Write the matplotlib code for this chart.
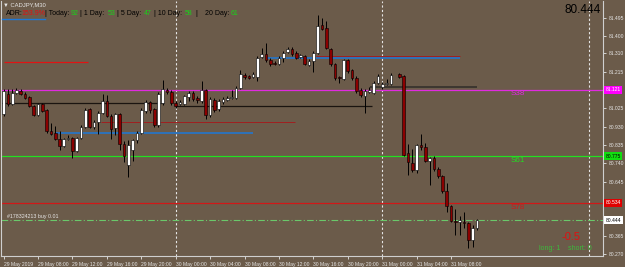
import numpy as np
import pandas as pd
import matplotlib
matplotlib.use("Agg")
import matplotlib.pyplot as plt
import matplotlib.transforms as mtransforms

# ---- data: CADJPY M30, first bar 29 May 2019 04:00 ----
first_bar = "2019-05-29 04:00"
opens = [80.997, 81.100, 81.049, 81.106, 81.116, 81.100, 81.085, 81.038, 80.992, 81.049,
         81.018, 80.909, 80.899, 80.868, 80.827, 80.863, 80.873, 80.801, 80.873, 80.930,
         81.023, 80.930, 80.956, 81.002, 81.064, 80.987, 80.925, 80.997, 80.842, 80.729,
         80.806, 80.858, 80.899, 81.013, 81.059, 81.023, 80.940, 81.054, 81.121, 81.111,
         81.054, 81.049, 81.049, 81.085, 81.106, 81.080, 81.064, 81.121, 80.992, 81.069,
         81.023, 81.059, 81.069, 81.080, 81.080, 81.131, 81.198, 81.193, 81.188, 81.188,
         81.291, 81.307, 81.276, 81.260, 81.255, 81.286, 81.317, 81.333, 81.312, 81.291,
         81.297, 81.250, 81.271, 81.312, 81.457, 81.441, 81.333, 81.255, 81.188, 81.178,
         81.276, 81.224, 81.183, 81.121, 81.090, 81.111, 81.106, 81.157, 81.137, 81.152,
         81.152, np.nan, 81.204, 81.193, 80.791, 80.739, 80.703, 80.837, 80.822, 80.754,
         80.765, 80.708, 80.672, 80.594, 80.517, 80.440, 80.434, 80.434, 80.429, 80.341,
         80.403]
highs = [81.126, 81.126, 81.126, 81.131, 81.126, 81.111, 81.090, 81.044, 81.054, 81.054,
         81.023, 80.951, 80.935, 80.909, 80.873, 80.884, 80.878, 80.878, 80.940, 81.028,
         81.028, 80.966, 81.013, 81.100, 81.095, 80.997, 81.002, 81.002, 80.853, 80.858,
         80.868, 80.909, 81.028, 81.069, 81.064, 81.028, 81.111, 81.173, 81.131, 81.121,
         81.064, 81.069, 81.095, 81.116, 81.116, 81.090, 81.167, 81.126, 81.085, 81.080,
         81.075, 81.085, 81.090, 81.121, 81.142, 81.224, 81.209, 81.198, 81.214, 81.297,
         81.338, 81.364, 81.286, 81.271, 81.297, 81.322, 81.343, 81.343, 81.322, 81.307,
         81.302, 81.281, 81.322, 81.508, 81.493, 81.477, 81.338, 81.260, 81.193, 81.281,
         81.281, 81.229, 81.193, 81.131, 81.126, 81.137, 81.167, 81.204, 81.162, 81.178,
         81.209, np.nan, 81.209, 81.198, 80.842, 80.816, 80.842, 80.889, 80.847, 80.770,
         80.775, 80.718, 80.677, 80.636, 80.522, 80.501, 80.465, 80.486, 80.434, 80.419,
         80.450]
lows = [80.987, 81.038, 81.044, 81.100, 81.095, 81.075, 81.033, 80.987, 80.987, 81.007,
        80.899, 80.884, 80.858, 80.806, 80.822, 80.858, 80.765, 80.796, 80.868, 80.925,
        80.925, 80.920, 80.894, 80.997, 80.982, 80.868, 80.884, 80.806, 80.744, 80.667,
        80.754, 80.847, 80.889, 81.002, 81.002, 80.930, 80.930, 81.044, 81.100, 81.044,
        81.028, 81.044, 81.044, 81.064, 81.064, 81.054, 81.054, 80.971, 80.982, 81.007,
        81.013, 81.049, 81.064, 81.075, 81.075, 81.126, 81.178, 81.178, 81.183, 81.167,
        81.286, 81.266, 81.245, 81.250, 81.250, 81.266, 81.312, 81.297, 81.281, 81.286,
        81.250, 81.245, 81.214, 81.307, 81.431, 81.333, 81.245, 81.173, 81.157, 81.173,
        81.209, 81.173, 81.106, 81.085, 81.002, 81.106, 81.100, 81.152, 81.126, 81.147,
        81.147, np.nan, 81.183, 80.775, 80.677, 80.693, 80.687, 80.806, 80.744, 80.625,
        80.698, 80.662, 80.584, 80.486, 80.434, 80.367, 80.367, 80.403, 80.300, 80.305,
        80.393]
closes = [81.116, 81.049, 81.106, 81.121, 81.100, 81.080, 81.038, 80.992, 81.049, 81.013,
          80.909, 80.894, 80.868, 80.827, 80.868, 80.873, 80.801, 80.873, 80.930, 81.018,
          80.930, 80.956, 81.002, 81.064, 80.987, 80.920, 80.997, 80.842, 80.780, 80.832,
          80.858, 80.899, 81.018, 81.059, 81.018, 80.940, 81.100, 81.126, 81.111, 81.054,
          81.038, 81.059, 81.090, 81.106, 81.075, 81.069, 81.121, 80.992, 81.075, 81.018,
          81.064, 81.075, 81.080, 81.085, 81.131, 81.204, 81.188, 81.183, 81.204, 81.286,
          81.307, 81.276, 81.255, 81.255, 81.286, 81.312, 81.333, 81.307, 81.286, 81.302,
          81.255, 81.271, 81.312, 81.451, 81.436, 81.338, 81.255, 81.183, 81.183, 81.276,
          81.219, 81.183, 81.116, 81.095, 81.116, 81.121, 81.157, 81.193, 81.152, 81.157,
          81.198, np.nan, 81.188, 80.785, 80.744, 80.703, 80.837, 80.822, 80.754, 80.765,
          80.708, 80.672, 80.594, 80.517, 80.440, 80.434, 80.445, 80.429, 80.341, 80.403,
          80.444]

# horizontal objects: (price, first bar, last bar)
fib_levels = [("S38", 81.121, "#e02be0"), ("S61", 80.775, "#22e022"), ("S78", 80.534, "#d01818")]
order_price = 80.444
order_text = "#178324213 buy 0.01"
red_seg = (81.267, 0, 19.6)
dark_segs = [(81.054, -0.6, 37.2), (81.038, 39.8, 85.7)]
grey_seg = (81.137, 85.2, 110)
blue_segs = [(80.899, 12.2, 57.9), (81.286, 60.9, 106.1)]
darkred_segs = [(80.956, 22.6, 67.8), (81.294, 72.5, 106.1)]
separators = [40, 88, 136]
price_ticks = [81.495, 81.400, 81.310, 81.215, 81.025, 80.930, 80.835, 80.740, 80.645, 80.365, 80.270]

adr_parts = [("ADR:", "black", 6), ("153.9%", "#e01010", 21.7), ("| Today:", "black", 45),
             ("92", "#19d219", 70.7), ("| 1 Day:", "black", 80), ("53", "#19d219", 107.7),
             ("| 5 Day:", "black", 117.3), ("47", "#19d219", 144), ("| 10 Day:", "black", 154),
             ("58", "#19d219", 185), ("|", "black", 195), ("20 Day:", "black", 204.7),
             ("61", "#19d219", 231)]

W, H = 625, 267
BG = "#6b5b4a"
FG = "#e6e6e6"
plt.rcParams["font.family"] = ["Liberation Sans", "DejaVu Sans"]

fig = plt.figure(figsize=(W / 100, H / 100), dpi=100, facecolor=BG)
ax = fig.add_axes([1 / W, 11 / H, 602 / W, 255 / H], facecolor=BG)


def px(x, y):
    return x / W, 1 - y / H


o, h, l, c = (np.array(a, dtype=float) for a in (opens, highs, lows, closes))
idx = np.arange(len(o))
ok = ~np.isnan(o)
up = ok & (c >= o)
dn = ok & (c < o)

ax.vlines(idx[ok], l[ok], h[ok], color="black", lw=0.7, zorder=3)
ax.bar(idx[up], np.maximum(c[up] - o[up], 0.002), bottom=o[up], width=0.62,
       color="white", edgecolor="black", lw=0.4, zorder=4)
ax.bar(idx[dn], o[dn] - c[dn], bottom=c[dn], width=0.62,
       color="#8b0000", edgecolor="black", lw=0.4, zorder=4)

# levels
for name, price, col in fib_levels:
    ax.axhline(price, color=col, lw=0.9, zorder=2)
    ax.text(119.5, price - 0.021, name, color=col, fontsize=5.8, ha="center", va="center",
            zorder=5)
ax.axhline(order_price, color="#6ac86a", lw=0.8, ls=(0, (6, 2, 1, 2)), zorder=2)
ax.text(0.8, order_price + 0.02, order_text, color=FG, fontsize=3.8, va="center", zorder=5)

ax.hlines(red_seg[0], red_seg[1], red_seg[2], color="#e01414", lw=0.9, zorder=2)
for p, a, b in dark_segs:
    ax.hlines(p, a, b, color="#1a1410", lw=0.9, zorder=2)
ax.hlines(grey_seg[0], grey_seg[1], grey_seg[2], color="#3c3630", lw=1.4, zorder=2)
for p, a, b in blue_segs:
    ax.hlines(p, a, b, color="#1e78d8", lw=1.1, zorder=2)
for p, a, b in darkred_segs:
    ax.hlines(p, a, b, color="#a02020", lw=0.7, zorder=2)

for s in separators:
    ax.axvline(s, color=FG, lw=0.8, ls=(0, (2, 2)), zorder=1)

ax.set_xlim(-0.6, 139.3)
ax.set_ylim(80.259, 81.581)

# time axis
t0 = pd.Timestamp(first_bar)
tick_idx = list(range(0, 105, 8))
tick_lab = []
for i in tick_idx:
    t = t0 + pd.Timedelta(minutes=30 * i)
    tick_lab.append(t.strftime("%d %b %Y") if i == 0 else t.strftime("%d %b %H:%M"))
ax.set_xticks(tick_idx)
ax.set_xticklabels(tick_lab, fontsize=3.6, color=FG, ha="left")
ax.tick_params(axis="x", length=2.5, width=0.6, color=FG, pad=1.5, direction="out")

# price axis
ax.yaxis.tick_right()
ax.set_yticks(price_ticks)
ax.set_yticklabels([f"{v:.3f}" for v in price_ticks], fontsize=3.6, color=FG)
ax.tick_params(axis="y", length=2.5, width=0.6, color=FG, pad=1.5)

ax.spines["top"].set_visible(False)
for side in ["bottom", "right", "left"]:
    ax.spines[side].set_color("#cfcfcf")
    ax.spines[side].set_linewidth(0.8)

trans = mtransforms.blended_transform_factory(ax.transAxes, ax.transData)
boxes = [(81.121, "#ff00ff", "white"), (80.775, "#11dd11", "black"),
         (80.534, "#e00000", "white"), (order_price, "white", "black")]
for price, fc, tc in boxes:
    ax.text(1.004, price, f"{price:.3f}", transform=trans, fontsize=3.6, color=tc,
            va="center", ha="left", zorder=6,
            bbox=dict(boxstyle="square,pad=0.3", fc=fc, ec="none"), clip_on=False)

# overlay texts
fig.text(*px(3, 5), "\u25bc CADJPY,M30", color=FG, fontsize=4.2, va="center",
         family=["Liberation Sans", "DejaVu Sans"])
for txt, col, x in adr_parts:
    fig.text(*px(x, 13.5), txt, color=col, fontsize=5, va="center")
fig.add_artist(plt.Line2D([2 / W, 45 / W], [1 - 18.5 / H, 1 - 18.5 / H], color="#1e78d8", lw=1))
fig.text(*px(601, 10), "80.444", color="black", fontsize=8.5, ha="right", va="center")
fig.text(*px(580, 237), "-0.5", color="#e01010", fontsize=8, ha="right", va="center")
fig.text(*px(539, 248), "long: 1", color="#3cb93c", fontsize=5, va="center")
fig.text(*px(568, 248), "short: 0", color="#3cb93c", fontsize=5, va="center")

fig.savefig("out.png", dpi=100, facecolor=BG)
